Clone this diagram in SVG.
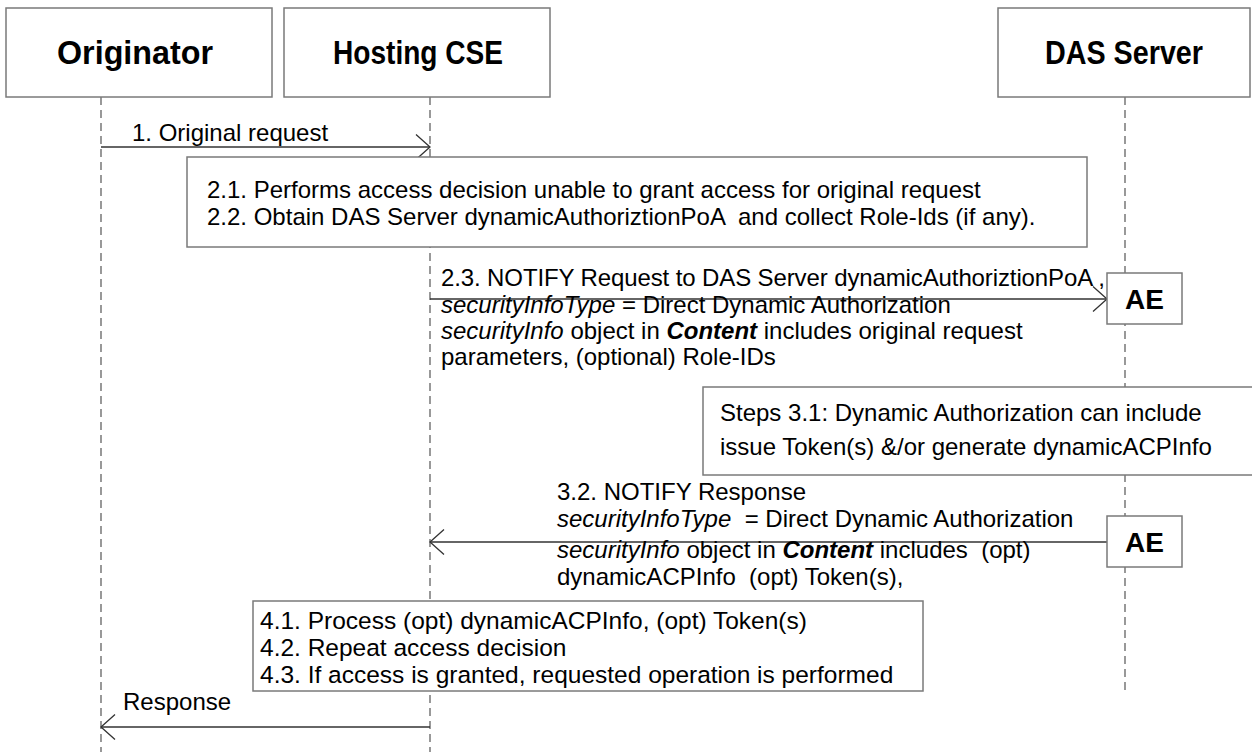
<svg xmlns="http://www.w3.org/2000/svg" width="1252" height="752" viewBox="0 0 1252 752">
<defs>
<style>
.box{fill:#fff;stroke:#7a7a7a;stroke-width:1.5}
.life{stroke:#555;stroke-width:1.2;stroke-dasharray:8 5;fill:none}
.msg{stroke:#333;stroke-width:1.3;fill:none}
.hdr{font-family:"Liberation Sans",Arial,sans-serif;font-weight:bold;font-size:33px;text-anchor:middle;fill:#000}
.t{font-family:"Liberation Sans",Arial,sans-serif;font-size:24px;fill:#000;white-space:pre}
.t4{font-size:24.5px}
.i{font-style:italic}
.bi{font-style:italic;font-weight:bold}
.ae{font-family:"Liberation Sans",Arial,sans-serif;font-weight:bold;font-size:28px;text-anchor:middle;fill:#000}
</style>
<marker id="open" markerUnits="userSpaceOnUse" markerWidth="16" markerHeight="28" refX="14" refY="12.5" orient="auto" overflow="visible">
<path d="M0,0 L14,12.5 L0,25" fill="none" stroke="#333" stroke-width="1.3"/>
</marker>
</defs>
<rect width="1252" height="752" fill="#fff"/>
<g id="lifelines">
<line class="life" x1="101" y1="97" x2="101" y2="752"/>
<line class="life" x1="430" y1="97" x2="430" y2="752"/>
<line class="life" x1="1125" y1="97" x2="1125" y2="690"/>
</g>
<g id="originator"><rect class="box" x="6" y="8" width="266" height="89"/><text class="hdr" x="135" y="64" textLength="156" lengthAdjust="spacingAndGlyphs">Originator</text></g>
<g id="hosting-cse"><rect class="box" x="284" y="8" width="266" height="89"/><text class="hdr" x="418" y="64" textLength="170" lengthAdjust="spacingAndGlyphs">Hosting CSE</text></g>
<g id="das-server"><rect class="box" x="998" y="8" width="252" height="89"/><text class="hdr" x="1124" y="64" textLength="158" lengthAdjust="spacingAndGlyphs">DAS Server</text></g>
<g id="connectors">
<line class="msg" x1="101" y1="147" x2="430" y2="147" marker-end="url(#open)"/>
<line class="msg" x1="430" y1="299" x2="1107" y2="299" marker-end="url(#open)"/>
<line class="msg" x1="1107" y1="542" x2="430" y2="542" marker-end="url(#open)"/>
<line class="msg" x1="430" y1="727" x2="101" y2="727" marker-end="url(#open)"/>
</g>
<g id="label-1"><text class="t" x="132" y="141">1. Original request</text></g>
<g id="note-2">
<rect class="box" x="187" y="157" width="900" height="90"/>
<text class="t" x="207" y="198">2.1. Performs access decision unable to grant access for original request</text>
<text class="t" x="207" y="225">2.2. Obtain DAS Server dynamicAuthoriztionPoA  and collect Role-Ids (if any).</text>
</g>
<g id="label-2-3">
<text class="t" x="441" y="286" textLength="664">2.3. NOTIFY Request to DAS Server dynamicAuthoriztionPoA ,</text>
<text class="t" x="441" y="313"><tspan class="i">securityInfoType</tspan> = Direct Dynamic Authorization</text>
<text class="t" x="441" y="339"><tspan class="i">securityInfo</tspan> object in <tspan class="bi">Content</tspan> includes original request</text>
<text class="t" x="441" y="365">parameters, (optional) Role-IDs</text>
</g>
<g id="ae-1"><rect class="box" x="1107" y="273" width="75" height="51"/><text class="ae" x="1144.5" y="309">AE</text></g>
<g id="note-3-1">
<rect class="box" x="703" y="387" width="560" height="88"/>
<text class="t" x="720" y="421">Steps 3.1: Dynamic Authorization can include</text>
<text class="t" x="720" y="455">issue Token(s) &amp;/or generate dynamicACPInfo</text>
</g>
<g id="label-3-2">
<text class="t" x="557" y="500">3.2. NOTIFY Response</text>
<text class="t" x="557" y="527"><tspan class="i">securityInfoType</tspan>  = Direct Dynamic Authorization</text>
<text class="t" x="557" y="558"><tspan class="i">securityInfo</tspan> object in <tspan class="bi">Content</tspan> includes  (opt)</text>
<text class="t" x="557" y="585">dynamicACPInfo  (opt) Token(s),</text>
</g>
<g id="ae-2"><rect class="box" x="1107" y="516" width="75" height="51"/><text class="ae" x="1144.5" y="552">AE</text></g>
<g id="note-4">
<rect class="box" x="253" y="601" width="670" height="90"/>
<text class="t t4" x="260" y="629">4.1. Process (opt) dynamicACPInfo, (opt) Token(s)</text>
<text class="t t4" x="260" y="656">4.2. Repeat access decision</text>
<text class="t t4" x="260" y="683">4.3. If access is granted, requested operation is performed</text>
</g>
<g id="label-response"><text class="t" x="123" y="710">Response</text></g>
</svg>
